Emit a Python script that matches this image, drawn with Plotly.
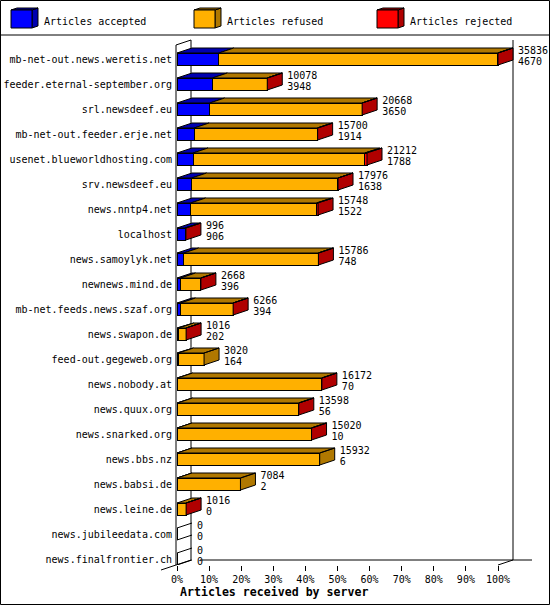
import plotly.graph_objects as go

# articles per server
servers = ["mb-net-out.news.weretis.net", "feeder.eternal-september.org", "srl.newsdeef.eu",
           "mb-net-out.feeder.erje.net", "usenet.blueworldhosting.com", "srv.newsdeef.eu",
           "news.nntp4.net", "localhost", "news.samoylyk.net", "newnews.mind.de",
           "mb-net.feeds.news.szaf.org", "news.swapon.de", "feed-out.gegeweb.org",
           "news.nobody.at", "news.quux.org", "news.snarked.org", "news.bbs.nz",
           "news.babsi.de", "news.leine.de", "news.jubileedata.com", "news.finalfrontier.ch"]
totals = [35836, 10078, 20668, 15700, 21212, 17976, 15748, 996, 15786, 2668, 6266,
          1016, 3020, 16172, 13598, 15020, 15932, 7084, 1016, 0, 0]
accepted = [4670, 3948, 3650, 1914, 1788, 1638, 1522, 906, 748, 396, 394,
            202, 164, 70, 56, 10, 6, 2, 0, 0, 0]
refused = [31136, 6120, 17008, 13756, 19174, 16328, 14056, 0, 15028, 2262, 5862,
           804, 2856, 16092, 13532, 15000, 15926, 7082, 1006, 0, 0]
rejected = [30, 10, 10, 30, 250, 10, 170, 90, 10, 10, 10,
            10, 0, 10, 10, 10, 0, 0, 10, 0, 0]
x_ticks = [0, 10, 20, 30, 40, 50, 60, 70, 80, 90, 100]

FONT = "DejaVu Sans Mono"
COLORS = {"accepted": ("#0000ff", "#0000b0"),
          "refused": ("#ffb000", "#b07800"),
          "rejected": ("#ff0000", "#b00000")}
series = {"accepted": accepted, "refused": refused, "rejected": rejected}

# plot area in pixels
LEFT, RIGHT, TOP, BOTTOM = 177, 532, 40, 565
PCT_PX = 3.21   # pixels per percent
ROW_PX = 25     # pixels per server
DX = 15 / PCT_PX
DY = 5 / ROW_PX
HALF = 0.24


def pct(v):
    return v * 100 / max(totals)


def px(x):
    return (x - LEFT) / (RIGHT - LEFT)


def py(y):
    return (BOTTOM - y) / (BOTTOM - TOP)


def path(points):
    return "M " + " L ".join(f"{px(x):.5f} {py(y):.5f}" for x, y in points) + " Z"


def line(x0, y0, x1, y1):
    return dict(type="line", xref="paper", yref="paper", x0=px(x0), y0=py(y0), x1=px(x1), y1=py(y1),
                line=dict(color="black", width=1), layer="below")


def add_poly(xs, ys, poly_x, poly_y):
    xs.extend(poly_x + [None])
    ys.extend(poly_y + [None])


fig = go.Figure()
rows = list(range(len(servers)))

# front faces
for name, vals in series.items():
    fig.add_trace(go.Bar(y=rows, x=[pct(v) for v in vals], orientation="h", width=HALF * 2,
                         marker=dict(color=COLORS[name][0], line=dict(color="black", width=1)),
                         showlegend=False))

# top and side faces, built from the same values
for name, vals in series.items():
    xs, ys = [], []
    for i in rows:
        if vals[i] == 0:
            continue
        start = sum(series[k][i] for k in series if list(series).index(k) < list(series).index(name))
        x0, x1 = pct(start), pct(start + vals[i])
        top = i - HALF
        add_poly(xs, ys, [x0, x0 + DX, x1 + DX, x1, x0], [top, top - DY, top - DY, top, top])
        # the side takes the colour of the last non-empty segment
        later = [k for k in series if list(series).index(k) > list(series).index(name) and series[k][i] > 0]
        if not later:
            bot = i + HALF
            add_poly(xs, ys, [x1, x1 + DX, x1 + DX, x1, x1], [top, top - DY, bot - DY, bot, top])
    fig.add_trace(go.Scatter(x=xs, y=ys, mode="lines", fill="toself", fillcolor=COLORS[name][1],
                             line=dict(color="black", width=1), showlegend=False, hoverinfo="skip"))

# servers with nothing at all only leave the two slanted edges
xs, ys = [], []
for i in rows:
    if totals[i] == 0:
        xs.extend([0, DX, None, 0, DX, None])
        ys.extend([i - HALF, i - HALF - DY, None, i + HALF, i + HALF - DY, None])
fig.add_trace(go.Scatter(x=xs, y=ys, mode="lines", line=dict(color="black", width=1),
                         showlegend=False, hoverinfo="skip"))

# the two numbers beside each bar
for vals, off in ((totals, -0.22), (accepted, 0.22)):
    fig.add_trace(go.Scatter(x=[pct(t) + DX + 5 / PCT_PX for t in totals], y=[i - 0.08 + off for i in rows],
                             mode="text", text=[str(v) for v in vals], textposition="middle right",
                             textfont=dict(family=FONT, size=10, color="black"),
                             cliponaxis=False, showlegend=False, hoverinfo="skip"))

# walls, floor, outer frame
shapes = [
    dict(type="rect", xref="paper", yref="paper", x0=px(0.5), y0=py(0.5), x1=px(549.5), y1=py(604.5),
         line=dict(color="black", width=1), layer="below"),
    line(0, 35, 550, 35),
    line(LEFT - 1, 45, LEFT - 1, BOTTOM),
    line(LEFT - 1, 45, LEFT + 14, 40),
    line(LEFT + 14, 40, LEFT + 14, 560),
    line(513, 40, 513, 560),
    line(200, 560, RIGHT, 560),
    line(161, 570, 191, 560),
    line(498, 565, 513, 560),
]

# legend blocks
annotations = []
for x0, name, label in ((11, "accepted", "Articles accepted"), (194, "refused", "Articles refused"),
                        (377, "rejected", "Articles rejected")):
    front, dark = COLORS[name]
    shapes.append(dict(type="path", xref="paper", yref="paper", layer="below", fillcolor=dark,
                       line=dict(color="black", width=1),
                       path=path([(x0 + 21, 10), (x0 + 27, 8), (x0 + 27, 26), (x0 + 21, 28)])))
    shapes.append(dict(type="path", xref="paper", yref="paper", layer="below", fillcolor=dark,
                       line=dict(color="black", width=1),
                       path=path([(x0, 10), (x0 + 6, 8), (x0 + 27, 8), (x0 + 21, 10)])))
    shapes.append(dict(type="rect", xref="paper", yref="paper", layer="below", fillcolor=front,
                       line=dict(color="black", width=1),
                       x0=px(x0), y0=py(10), x1=px(x0 + 21), y1=py(28)))
    annotations.append(dict(xref="paper", yref="paper", x=px(x0 + 31), y=py(21), text=label, showarrow=False,
                            xanchor="left", yanchor="middle", font=dict(family=FONT, size=10, color="black")))

annotations.append(dict(xref="paper", yref="paper", x=px(274), y=py(592), text="<b>Articles received by server</b>",
                        showarrow=False, xanchor="center", yanchor="middle",
                        font=dict(family=FONT, size=11.6, color="black")))

fig.update_layout(
    width=550, height=605,
    margin=dict(l=LEFT, r=550 - RIGHT, t=TOP, b=605 - BOTTOM, autoexpand=False),
    paper_bgcolor="white", plot_bgcolor="white",
    barmode="stack", showlegend=False,
    shapes=shapes, annotations=annotations,
    xaxis=dict(range=[0, (RIGHT - LEFT) / PCT_PX], tickvals=x_ticks, ticktext=[f"{t}%" for t in x_ticks],
               ticks="outside", ticklen=5, tickcolor="black", showgrid=False, zeroline=False, showline=False,
               tickfont=dict(family=FONT, size=10, color="black")),
    yaxis=dict(range=[(BOTTOM - 59) / ROW_PX, (TOP - 59) / ROW_PX], tickvals=rows, ticktext=servers,
               ticks="", showgrid=False, zeroline=False, showline=False, ticklabelstandoff=4,
               tickfont=dict(family=FONT, size=10, color="black")),
)

fig.write_html("out.html", config={"displayModeBar": False},
               post_script="document.body.style.margin='0';")
